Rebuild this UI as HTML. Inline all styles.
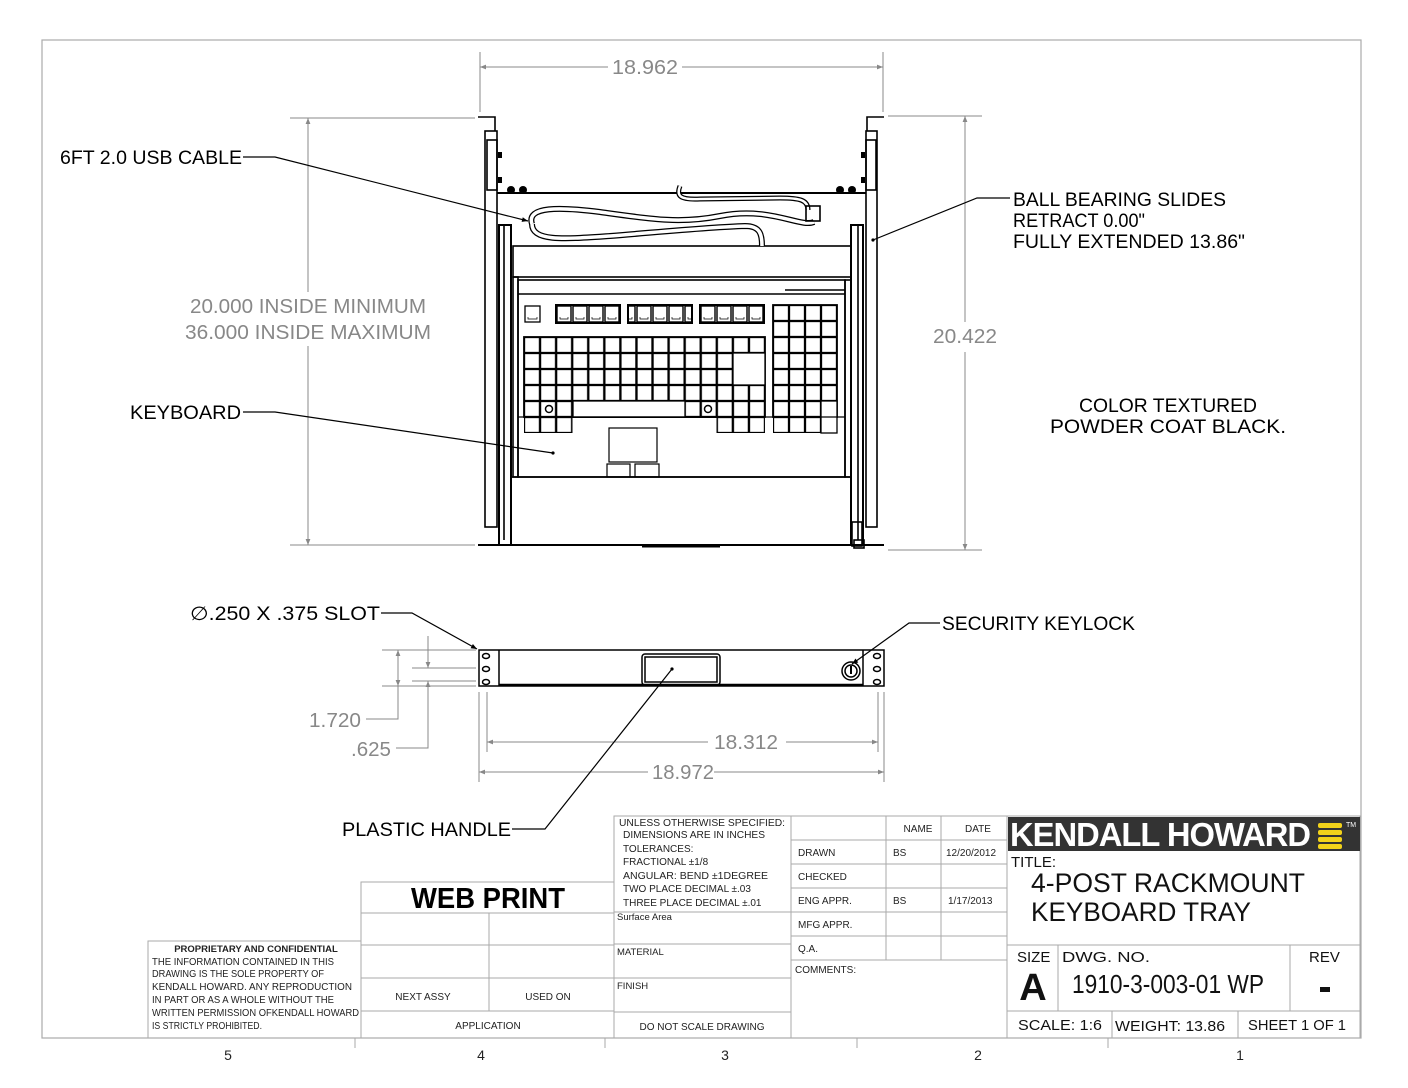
<!DOCTYPE html>
<html><head><meta charset="utf-8"><style>
html,body{margin:0;padding:0;background:#fff;}
svg{display:block;}
text{font-family:"Liberation Sans",sans-serif;}
</style></head><body>
<svg width="1408" height="1088" viewBox="0 0 1408 1088" xmlns="http://www.w3.org/2000/svg">
<defs>
<marker id="ag" viewBox="0 0 10 10" refX="10" refY="5" markerWidth="14" markerHeight="6" orient="auto-start-reverse" markerUnits="userSpaceOnUse"><path d="M0,1 L10,5 L0,9z" fill="#888"/></marker>
<marker id="ab" viewBox="0 0 10 10" refX="10" refY="5" markerWidth="12" markerHeight="6" orient="auto" markerUnits="userSpaceOnUse"><path d="M0,1 L10,5 L0,9z" fill="#000"/></marker>
<pattern id="kf" patternUnits="userSpaceOnUse" x="556" y="305" width="16" height="18"><rect x="1" y="1" width="14" height="16" fill="none" stroke="#000" stroke-width="1.4"/><path d="M4,12 v2 h8 v-2" fill="none" stroke="#000" stroke-width="0.7"/></pattern>
<pattern id="km" patternUnits="userSpaceOnUse" x="524" y="337" width="16.07" height="16"><rect x="0.5" y="0.5" width="15" height="15" fill="none" stroke="#000" stroke-width="1.3"/></pattern>
<pattern id="kn" patternUnits="userSpaceOnUse" x="773" y="305" width="16" height="16"><rect x="0.5" y="0.5" width="15" height="15" fill="none" stroke="#000" stroke-width="1.3"/></pattern>
</defs>

<rect x="42" y="40" width="1319" height="998" fill="none" stroke="#aaa" stroke-width="1.2"/>
<g stroke="#aaa" stroke-width="1"><line x1="355" y1="1038" x2="355" y2="1048"/><line x1="605" y1="1038" x2="605" y2="1048"/><line x1="857" y1="1038" x2="857" y2="1048"/><line x1="1108" y1="1038" x2="1108" y2="1048"/></g>
<g font-size="14" fill="#222" text-anchor="middle"><text x="228" y="1060">5</text><text x="481" y="1060">4</text><text x="725" y="1060">3</text><text x="978" y="1060">2</text><text x="1240" y="1060">1</text></g>

<g stroke="#888" stroke-width="1" fill="none">
<line x1="480" y1="52" x2="480" y2="112"/><line x1="883" y1="52" x2="883" y2="112"/>
<line x1="480" y1="67" x2="608" y2="67" marker-start="url(#ag)"/><line x1="682" y1="67" x2="883" y2="67" marker-end="url(#ag)"/>
<line x1="290" y1="118" x2="475" y2="118"/><line x1="290" y1="545" x2="475" y2="545"/>
<line x1="308" y1="118" x2="308" y2="292" marker-start="url(#ag)"/><line x1="308" y1="346" x2="308" y2="545" marker-end="url(#ag)"/>
<line x1="888" y1="116" x2="982" y2="116"/><line x1="888" y1="550" x2="982" y2="550"/>
<line x1="965" y1="116" x2="965" y2="322" marker-start="url(#ag)"/><line x1="965" y1="352" x2="965" y2="550" marker-end="url(#ag)"/>
</g>
<g fill="#888" font-size="20" text-anchor="middle">
<text x="645" y="74" textLength="66" lengthAdjust="spacingAndGlyphs">18.962</text>
<text x="308" y="313" textLength="236" lengthAdjust="spacingAndGlyphs">20.000 INSIDE MINIMUM</text>
<text x="308" y="339" textLength="246" lengthAdjust="spacingAndGlyphs">36.000 INSIDE MAXIMUM</text>
<text x="965" y="343" textLength="64" lengthAdjust="spacingAndGlyphs">20.422</text>
</g>

<g stroke="#000" fill="none" stroke-width="1.6">
<path d="M478,117 H495 V131"/>
<rect x="485" y="131" width="12" height="396"/>
<rect x="487" y="140" width="10" height="50"/>
<rect x="499" y="225" width="12" height="320" stroke-width="2"/>
<line x1="504" y1="225" x2="504" y2="540"/>
<path d="M884,117 H867 V131"/>
<rect x="866" y="131" width="11" height="396"/>
<rect x="866" y="140" width="10" height="50"/>
<rect x="851" y="225" width="12" height="320" stroke-width="2"/>
<line x1="858" y1="225" x2="858" y2="540"/>
<line x1="497" y1="193" x2="866" y2="193" stroke-width="2"/>
<rect x="513" y="246" width="338" height="31"/>
<rect x="518" y="280" width="327" height="197"/>
<line x1="518" y1="294" x2="845" y2="294"/>
<line x1="785" y1="290" x2="845" y2="290"/>
<rect x="513" y="277" width="5" height="200"/>
<rect x="845" y="280" width="6" height="197"/>
<rect x="511" y="477" width="340" height="68"/>
<line x1="478" y1="545" x2="884" y2="545" stroke-width="2"/>
<line x1="642" y1="546" x2="720" y2="546" stroke-width="3"/>
<rect x="852" y="522" width="10" height="24"/>
<rect x="854" y="540" width="10" height="8"/>
</g>
<g fill="#000"><circle cx="511" cy="190" r="4"/><circle cx="523" cy="190" r="4"/><circle cx="840" cy="190" r="4"/><circle cx="852" cy="190" r="4"/>
<rect x="498" y="152" width="4" height="6"/><rect x="498" y="177" width="4" height="6"/><rect x="861" y="152" width="4" height="6"/><rect x="861" y="177" width="4" height="6"/></g>

<g fill="none" stroke="#000">
<path id="c1" d="M532,224 C526,206 560,207 600,212 C650,219 680,224 720,216 C770,206 800,228 814,222" stroke-width="6"/>
<path d="M532,224 C526,206 560,207 600,212 C650,219 680,224 720,216 C770,206 800,228 814,222" stroke-width="3.5" stroke="#fff"/>
<path d="M532,224 C532,242 565,239 610,236 C660,232 710,227 745,226 C760,226 762,234 762,246" stroke-width="6"/>
<path d="M532,224 C532,242 565,239 610,236 C660,232 710,227 745,226 C760,226 762,234 762,246" stroke-width="3.5" stroke="#fff"/>
<path d="M680,186 C676,196 680,200 700,199 L780,198 C800,198 808,200 808,210" stroke-width="5"/>
<path d="M680,186 C676,196 680,200 700,199 L780,198 C800,198 808,200 808,210" stroke-width="2.5" stroke="#fff"/>
<rect x="806" y="206" width="14" height="15" stroke-width="1.6"/>
</g>

<g stroke="#000" stroke-width="1.3">
<rect x="525" y="306" width="15" height="16" fill="#fff"/>
<path d="M528,317 v2 h9 v-2" fill="none" stroke-width="0.7"/>
<rect x="556" y="305" width="64" height="18" fill="url(#kf)" stroke="none"/>
<rect x="628" y="305" width="64" height="18" fill="url(#kf)" stroke="none"/>
<rect x="700" y="305" width="64" height="18" fill="url(#kf)" stroke="none"/>
<rect x="556" y="305" width="64" height="18" fill="none" stroke-width="2"/>
<rect x="628" y="305" width="64" height="18" fill="none" stroke-width="2"/>
<rect x="700" y="305" width="64" height="18" fill="none" stroke-width="2"/>
<rect x="524" y="337" width="241" height="96" fill="url(#km)" stroke="none"/>
<rect x="524" y="337" width="241" height="80" fill="none" stroke-width="1.8"/>
<rect x="573" y="401" width="112" height="16" fill="#fff"/>
<rect x="572.5" y="418" width="144" height="16" fill="#fff" stroke="none"/>
<rect x="733" y="353" width="32" height="32" fill="#fff"/>
<rect x="773" y="305" width="64" height="128" fill="url(#kn)" stroke="none"/>
<rect x="773" y="305" width="64" height="112" fill="none" stroke-width="1.8"/>
<rect x="821" y="401" width="16" height="32" fill="#fff"/>
<line x1="518" y1="417" x2="845" y2="417"/>
<circle cx="549" cy="409" r="3.5" fill="none" stroke-width="1.5"/>
<circle cx="708" cy="409" r="3.5" fill="none" stroke-width="1.5"/>
<rect x="609" y="428" width="48" height="34" fill="none" stroke-width="1.2"/>
<rect x="607" y="464" width="23" height="13" fill="none" stroke-width="1.2"/>
<rect x="635" y="464" width="24" height="13" fill="none" stroke-width="1.2"/>
</g>

<g stroke="#000" stroke-width="1.2" fill="none">
<path d="M243,157 H275 L528,221" marker-end="url(#ab)"/>
<path d="M243,412 H275 L553,453"/>
<path d="M1010,198 H977 L873,240"/>
</g>
<circle cx="553" cy="453" r="1.6"/><circle cx="873" cy="240" r="1.6"/>
<g font-size="19" fill="#000">
<text x="60" y="164" textLength="182" lengthAdjust="spacingAndGlyphs">6FT 2.0 USB CABLE</text>
<text x="130" y="419" textLength="111" lengthAdjust="spacingAndGlyphs">KEYBOARD</text>
<text x="1013" y="206" textLength="213" lengthAdjust="spacingAndGlyphs">BALL BEARING SLIDES</text>
<text x="1013" y="227" textLength="132" lengthAdjust="spacingAndGlyphs">RETRACT 0.00"</text>
<text x="1013" y="248" textLength="232" lengthAdjust="spacingAndGlyphs">FULLY EXTENDED 13.86"</text>
<text x="1168" y="412" text-anchor="middle" textLength="178" lengthAdjust="spacingAndGlyphs">COLOR TEXTURED</text>
<text x="1168" y="433" text-anchor="middle" textLength="236" lengthAdjust="spacingAndGlyphs">POWDER COAT BLACK.</text>
</g>

<g stroke="#888" stroke-width="1" fill="none">
<line x1="382" y1="650" x2="476" y2="650"/><line x1="382" y1="686" x2="476" y2="686"/>
<line x1="412" y1="668" x2="476" y2="668"/><line x1="412" y1="681" x2="476" y2="681"/>
<line x1="398" y1="650" x2="398" y2="686" marker-start="url(#ag)" marker-end="url(#ag)"/>
<path d="M398,686 V719 H366"/>
<line x1="428" y1="636" x2="428" y2="668" marker-end="url(#ag)"/>
<path d="M428,698 L428,681" marker-end="url(#ag)"/>
<path d="M428,698 V748 H396"/>
<line x1="487" y1="692" x2="487" y2="752"/><line x1="878" y1="692" x2="878" y2="752"/>
<line x1="479" y1="692" x2="479" y2="782"/><line x1="884" y1="692" x2="884" y2="782"/>
<line x1="487" y1="742" x2="708" y2="742" marker-start="url(#ag)"/><line x1="786" y1="742" x2="878" y2="742" marker-end="url(#ag)"/>
<line x1="479" y1="772" x2="648" y2="772" marker-start="url(#ag)"/><line x1="714" y1="772" x2="884" y2="772" marker-end="url(#ag)"/>
</g>
<g fill="#888" font-size="20">
<text x="309" y="727" textLength="52" lengthAdjust="spacingAndGlyphs">1.720</text>
<text x="351" y="756" textLength="40" lengthAdjust="spacingAndGlyphs">.625</text>
<text x="714" y="749" textLength="64" lengthAdjust="spacingAndGlyphs">18.312</text>
<text x="652" y="779" textLength="62" lengthAdjust="spacingAndGlyphs">18.972</text>
</g>
<g stroke="#000" fill="none" stroke-width="1.5">
<rect x="479" y="650" width="405" height="36"/>
<line x1="499" y1="650" x2="499" y2="686"/><line x1="863" y1="650" x2="863" y2="686"/>
<line x1="499" y1="685" x2="863" y2="685" stroke-width="2.5"/>
<rect x="642" y="654" width="78" height="31" rx="3"/>
<rect x="645" y="657" width="72" height="25"/>
<circle cx="851" cy="671" r="9"/><circle cx="851" cy="671" r="6"/>
<ellipse cx="486" cy="656" rx="3.5" ry="2.5"/><ellipse cx="486" cy="669" rx="3.5" ry="2.5"/><ellipse cx="486" cy="682" rx="3.5" ry="2.5"/>
<ellipse cx="877" cy="656" rx="3.5" ry="2.5"/><ellipse cx="877" cy="669" rx="3.5" ry="2.5"/><ellipse cx="877" cy="682" rx="3.5" ry="2.5"/>
</g>
<line x1="851" y1="666" x2="851" y2="674" stroke="#000" stroke-width="2"/>
<g stroke="#000" stroke-width="1.2" fill="none">
<path d="M381,613 H412 L477,649" marker-end="url(#ab)"/>
<path d="M940,623 H909 L852,664" marker-end="url(#ab)"/>
<path d="M512,829 H545 L672,669"/>
</g>
<circle cx="672" cy="669" r="1.6"/>
<g font-size="19" fill="#000">
<text x="190" y="620" textLength="190" lengthAdjust="spacingAndGlyphs">∅.250 X .375  SLOT</text>
<text x="942" y="630" textLength="193" lengthAdjust="spacingAndGlyphs">SECURITY KEYLOCK</text>
<text x="342" y="836" textLength="169" lengthAdjust="spacingAndGlyphs">PLASTIC HANDLE</text>
</g>

<g stroke="#aaa" stroke-width="1" fill="none">
<rect x="148" y="941" width="213" height="97"/>
<rect x="361" y="882" width="253" height="156"/>
<line x1="361" y1="913" x2="614" y2="913"/><line x1="361" y1="945" x2="614" y2="945"/><line x1="361" y1="978" x2="614" y2="978"/><line x1="361" y1="1011" x2="614" y2="1011"/>
<line x1="489" y1="913" x2="489" y2="1011"/>
<rect x="614" y="816" width="177" height="222"/>
<line x1="614" y1="912" x2="791" y2="912"/><line x1="614" y1="944" x2="791" y2="944"/><line x1="614" y1="978" x2="791" y2="978"/><line x1="614" y1="1012" x2="791" y2="1012"/>
<rect x="791" y="816" width="216" height="222"/>
<line x1="886" y1="816" x2="886" y2="960"/><line x1="941" y1="816" x2="941" y2="960"/>
<line x1="791" y1="840" x2="1007" y2="840"/><line x1="791" y1="864" x2="1007" y2="864"/><line x1="791" y1="888" x2="1007" y2="888"/><line x1="791" y1="912" x2="1007" y2="912"/><line x1="791" y1="936" x2="1007" y2="936"/><line x1="791" y1="960" x2="1007" y2="960"/>
<rect x="1007" y="816" width="353" height="222"/>
<line x1="1007" y1="945" x2="1360" y2="945"/><line x1="1007" y1="1011" x2="1360" y2="1011"/>
<line x1="1058" y1="945" x2="1058" y2="1011"/><line x1="1290" y1="945" x2="1290" y2="1011"/>
<line x1="1112" y1="1011" x2="1112" y2="1038"/><line x1="1238" y1="1011" x2="1238" y2="1038"/>
</g>
<text x="488" y="908" font-size="29" font-weight="bold" text-anchor="middle" textLength="154" lengthAdjust="spacingAndGlyphs">WEB PRINT</text>
<g font-size="10" fill="#222">
<text x="256" y="952" text-anchor="middle" font-weight="bold" font-size="9.5">PROPRIETARY AND CONFIDENTIAL</text>
<text x="152" y="965" textLength="182" lengthAdjust="spacingAndGlyphs">THE INFORMATION CONTAINED IN THIS</text>
<text x="152" y="977" textLength="172" lengthAdjust="spacingAndGlyphs">DRAWING IS THE SOLE PROPERTY OF</text>
<text x="152" y="990" textLength="200" lengthAdjust="spacingAndGlyphs">KENDALL HOWARD.  ANY REPRODUCTION</text>
<text x="152" y="1003" textLength="182" lengthAdjust="spacingAndGlyphs">IN PART OR AS A WHOLE WITHOUT THE</text>
<text x="152" y="1016" textLength="207" lengthAdjust="spacingAndGlyphs">WRITTEN PERMISSION OFKENDALL HOWARD</text>
<text x="152" y="1029" textLength="110" lengthAdjust="spacingAndGlyphs">IS STRICTLY PROHIBITED.</text>
<text x="423" y="1000" text-anchor="middle">NEXT ASSY</text>
<text x="548" y="1000" text-anchor="middle">USED ON</text>
<text x="488" y="1029" text-anchor="middle">APPLICATION</text>
<text x="619" y="826" textLength="166" lengthAdjust="spacingAndGlyphs">UNLESS OTHERWISE SPECIFIED:</text>
<text x="623" y="838" textLength="142" lengthAdjust="spacingAndGlyphs">DIMENSIONS ARE IN INCHES</text>
<text x="623" y="852">TOLERANCES:</text>
<text x="623" y="865">FRACTIONAL ±1/8</text>
<text x="623" y="879" textLength="145" lengthAdjust="spacingAndGlyphs">ANGULAR: BEND ±1DEGREE</text>
<text x="623" y="892">TWO PLACE DECIMAL  ±.03</text>
<text x="623" y="906">THREE PLACE DECIMAL ±.01</text>
<text x="617" y="920" font-size="9.5">Surface Area</text>
<text x="617" y="955" font-size="9.5">MATERIAL</text>
<text x="617" y="989" font-size="9.5">FINISH</text>
<text x="702" y="1030" text-anchor="middle">DO NOT SCALE DRAWING</text>
<text x="918" y="832" text-anchor="middle">NAME</text>
<text x="978" y="832" text-anchor="middle">DATE</text>
<text x="798" y="856">DRAWN</text><text x="893" y="856">BS</text><text x="946" y="856">12/20/2012</text>
<text x="798" y="880">CHECKED</text>
<text x="798" y="904">ENG APPR.</text><text x="893" y="904">BS</text><text x="948" y="904">1/17/2013</text>
<text x="798" y="928">MFG APPR.</text>
<text x="798" y="952">Q.A.</text>
<text x="795" y="973">COMMENTS:</text>
</g>
<rect x="1008" y="817" width="352" height="34" fill="#333"/>
<text x="1010" y="846" font-size="33" font-weight="bold" fill="#fff" textLength="300" lengthAdjust="spacingAndGlyphs" letter-spacing="-1">KENDALL HOWARD</text>
<g fill="#f2d21a"><rect x="1318" y="823" width="24" height="5" rx="2"/><rect x="1318" y="830" width="24" height="5" rx="2"/><rect x="1318" y="837" width="24" height="5" rx="2"/><rect x="1318" y="844" width="24" height="5" rx="2"/></g>
<text x="1346" y="827" font-size="7" fill="#fff">TM</text>
<g fill="#111">
<text x="1011" y="867" font-size="15">TITLE:</text>
<text x="1031" y="892" font-size="27" textLength="274" lengthAdjust="spacingAndGlyphs">4-POST RACKMOUNT</text>
<text x="1031" y="921" font-size="27" textLength="220" lengthAdjust="spacingAndGlyphs">KEYBOARD TRAY</text>
<text x="1017" y="962" font-size="15">SIZE</text>
<text x="1062" y="962" font-size="15" textLength="88" lengthAdjust="spacingAndGlyphs">DWG.  NO.</text>
<text x="1309" y="962" font-size="15">REV</text>
<text x="1033" y="1000" font-size="38" font-weight="bold" text-anchor="middle">A</text>
<text x="1168" y="993" font-size="26" text-anchor="middle" textLength="192" lengthAdjust="spacingAndGlyphs">1910-3-003-01 WP</text>
<rect x="1320" y="987" width="10" height="5" fill="#111"/>
<text x="1018" y="1030" font-size="15" textLength="84" lengthAdjust="spacingAndGlyphs">SCALE: 1:6</text>
<text x="1115" y="1031" font-size="15" textLength="110" lengthAdjust="spacingAndGlyphs">WEIGHT: 13.86</text>
<text x="1248" y="1030" font-size="15" textLength="98" lengthAdjust="spacingAndGlyphs">SHEET 1 OF 1</text>
</g>
</svg>
</body></html>
